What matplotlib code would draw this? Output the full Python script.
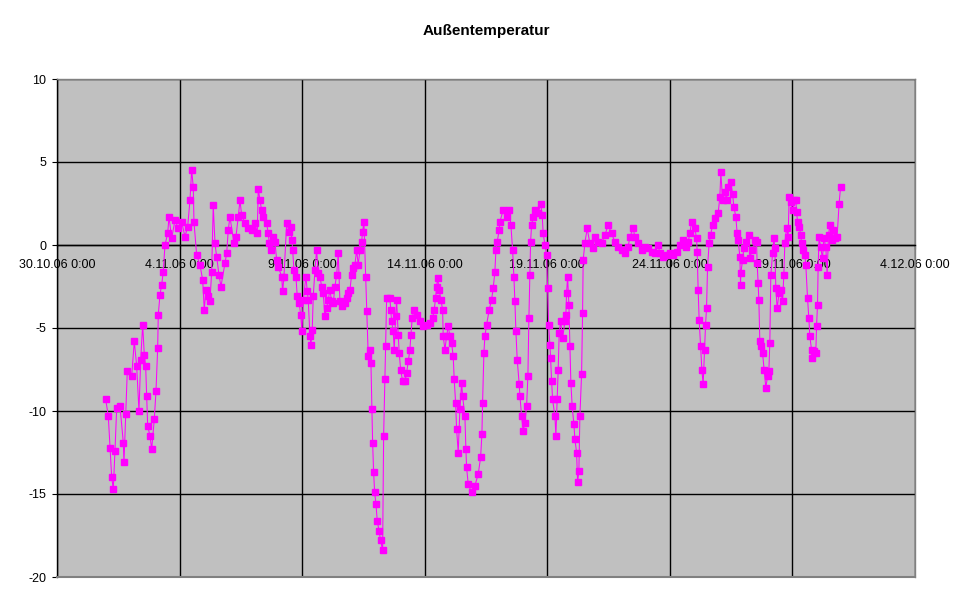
import matplotlib
matplotlib.use("Agg")
import matplotlib.pyplot as plt
import matplotlib.dates as mdates
from matplotlib.ticker import FuncFormatter, FixedLocator
from datetime import datetime, timedelta

plt.rcParams['font.family'] = ['Liberation Sans', 'DejaVu Sans']
plt.rcParams['axes.unicode_minus'] = False

title = "Außentemperatur"
start = datetime(2006, 10, 30)

# time of each reading, in days after 30.10.06 0:00
days = [
    1.986, 2.092, 2.162, 2.231, 2.296, 2.365, 2.435, 2.569, 2.704, 2.732,
    2.802, 2.867, 3.047, 3.153, 3.250, 3.344, 3.414, 3.495, 3.560, 3.617,
    3.658, 3.699, 3.793, 3.862, 3.968, 4.038, 4.107, 4.131, 4.201, 4.270,
    4.335, 4.405, 4.515, 4.568, 4.678, 4.812, 4.947, 5.086, 5.220, 5.330,
    5.424, 5.493, 5.559, 5.587, 5.697, 5.832, 5.942, 6.007, 6.077, 6.170,
    6.240, 6.309, 6.374, 6.444, 6.513, 6.607, 6.688, 6.852, 6.921, 6.986,
    7.055, 7.219, 7.300, 7.394, 7.463, 7.533, 7.667, 7.802, 7.940, 8.075,
    8.169, 8.210, 8.279, 8.348, 8.413, 8.552, 8.617, 8.658, 8.715, 8.821,
    8.891, 8.960, 9.025, 9.164, 9.205, 9.258, 9.368, 9.474, 9.531, 9.584,
    9.613, 9.666, 9.747, 9.800, 9.882, 9.939, 9.992, 10.045, 10.155, 10.208,
    10.249, 10.318, 10.359, 10.412, 10.453, 10.522, 10.591, 10.657, 10.726, 10.795,
    10.860, 10.930, 10.999, 11.064, 11.134, 11.203, 11.268, 11.338, 11.407, 11.472,
    11.542, 11.611, 11.746, 11.815, 11.880, 11.950, 12.019, 12.084, 12.153, 12.223,
    12.288, 12.357, 12.427, 12.467, 12.520, 12.590, 12.631, 12.696, 12.765, 12.806,
    12.847, 12.875, 12.916, 12.957, 13.010, 13.063, 13.132, 13.202, 13.283, 13.324,
    13.377, 13.405, 13.446, 13.581, 13.613, 13.650, 13.715, 13.756, 13.813, 13.854,
    13.919, 13.960, 14.017, 14.098, 14.193, 14.262, 14.327, 14.396, 14.437, 14.490,
    14.560, 14.670, 14.804, 14.939, 15.077, 15.212, 15.322, 15.387, 15.444, 15.485,
    15.526, 15.592, 15.661, 15.730, 15.755, 15.824, 15.893, 15.958, 16.028, 16.097,
    16.162, 16.203, 16.260, 16.301, 16.366, 16.436, 16.505, 16.545, 16.639, 16.680,
    16.708, 16.774, 16.913, 17.047, 17.182, 17.280, 17.333, 17.361, 17.414, 17.455,
    17.524, 17.631, 17.728, 17.794, 17.863, 17.904, 17.957, 18.038, 18.067, 18.202,
    18.340, 18.447, 18.516, 18.585, 18.638, 18.679, 18.720, 18.773, 18.855, 18.884,
    18.952, 19.018, 19.086, 19.156, 19.209, 19.250, 19.290, 19.319, 19.360, 19.425,
    19.494, 19.629, 19.727, 19.792, 19.833, 19.902, 19.972, 20.013, 20.053, 20.106,
    20.135, 20.176, 20.216, 20.310, 20.351, 20.404, 20.445, 20.486, 20.543, 20.625,
    20.718, 20.759, 20.787, 20.828, 20.881, 20.922, 20.962, 21.015, 21.085, 21.126,
    21.195, 21.236, 21.289, 21.330, 21.399, 21.440, 21.464, 21.533, 21.627, 21.737,
    21.872, 21.941, 22.076, 22.215, 22.349, 22.484, 22.622, 22.757, 22.892, 23.030,
    23.165, 23.300, 23.369, 23.504, 23.573, 23.708, 23.846, 23.981, 24.116, 24.254,
    24.389, 24.523, 24.592, 24.727, 24.866, 25.000, 25.135, 25.273, 25.408, 25.542,
    25.652, 25.747, 25.816, 25.885, 26.020, 26.089, 26.114, 26.154, 26.195, 26.252,
    26.305, 26.358, 26.415, 26.456, 26.497, 26.538, 26.603, 26.660, 26.741, 26.835,
    26.970, 27.039, 27.080, 27.149, 27.243, 27.312, 27.378, 27.475, 27.557, 27.610,
    27.692, 27.745, 27.786, 27.855, 27.884, 27.896, 27.966, 28.019, 28.124, 28.222,
    28.263, 28.357, 28.467, 28.536, 28.560, 28.601, 28.630, 28.670, 28.711, 28.781,
    28.846, 28.915, 28.985, 29.038, 29.078, 29.119, 29.189, 29.242, 29.282, 29.323,
    29.376, 29.458, 29.527, 29.597, 29.650, 29.690, 29.760, 29.825, 29.866, 29.923,
    30.004, 30.070, 30.139, 30.168, 30.208, 30.273, 30.343, 30.371, 30.437, 30.506,
    30.546, 30.616, 30.669, 30.710, 30.779, 30.804, 30.885, 30.954, 30.983, 31.024,
    31.048, 31.089, 31.146, 31.227, 31.280, 31.362, 31.415, 31.472, 31.525, 31.594,
    31.660, 31.729, 31.823, 31.904, 31.964,
]

temperature = [
    -9.3, -10.3, -12.2, -14.0, -14.7, -12.4, -9.8, -9.7, -11.9, -13.1,
    -10.2, -7.6, -7.9, -5.8, -7.3, -10.0, -6.9, -4.8, -6.6, -7.3,
    -9.1, -10.9, -11.5, -12.3, -10.5, -8.8, -6.2, -4.2, -3.0, -2.4,
    -1.6, 0.0, 0.7, 1.7, 0.4, 1.5, 1.0, 1.4, 0.5, 1.1,
    2.7, 4.5, 3.5, 1.4, -0.6, -1.2, -2.1, -3.9, -2.7, -3.1,
    -3.4, -1.6, 2.4, 0.1, -0.7, -1.8, -2.5, -1.1, -0.5, 0.9,
    1.7, 0.1, 0.5, 1.7, 2.7, 1.8, 1.3, 1.0, 0.9, 1.3,
    0.7, 3.4, 2.7, 2.1, 1.7, 1.3, 0.7, 0.1, -0.3, 0.5,
    0.2, -0.9, -1.3, -1.9, -2.8, -1.9, 1.3, 0.8, 1.1, 0.3,
    -0.3, -1.5, -1.9, -3.1, -3.5, -4.2, -5.2, -3.3, -1.9, -2.8,
    -3.3, -5.5, -6.0, -5.1, -3.1, -1.5, -0.3, -1.7, -1.9, -2.5,
    -2.9, -4.3, -3.8, -3.3, -2.7, -3.4, -3.5, -2.5, -1.8, -0.5,
    -3.4, -3.7, -3.5, -3.2, -2.9, -2.7, -1.8, -1.4, -1.2, -0.3,
    -1.2, -0.3, 0.2, 0.8, 1.4, -1.9, -4.0, -6.7, -6.3, -7.1,
    -9.9, -11.9, -13.7, -14.9, -15.6, -16.6, -17.2, -17.8, -18.4, -11.5,
    -8.1, -6.1, -3.2, -3.2, -3.9, -4.6, -5.2, -6.3, -4.3, -3.3,
    -5.4, -6.5, -7.5, -8.2, -8.2, -7.7, -7.0, -6.3, -5.4, -4.4,
    -3.9, -4.2, -4.6, -4.9, -4.8, -4.7, -4.4, -3.9, -3.2, -2.5,
    -2.0, -2.7, -3.3, -3.9, -5.5, -6.3, -5.5, -4.9, -5.5, -5.9,
    -6.7, -8.1, -9.5, -11.1, -12.5, -9.9, -8.3, -9.1, -10.3, -12.3,
    -13.4, -14.4, -14.9, -14.5, -13.8, -12.8, -11.4, -9.5, -6.5, -5.5,
    -4.8, -3.9, -3.3, -2.6, -1.6, -0.3, 0.2, 0.9, 1.4, 2.1,
    1.7, 2.1, 1.2, -0.3, -1.9, -3.4, -5.2, -6.9, -8.4, -9.1,
    -10.3, -11.2, -10.7, -9.7, -7.9, -4.4, -1.8, 0.2, 1.2, 1.7,
    2.1, 1.9, 2.5, 1.8, 0.7, 0.0, -0.6, -2.6, -4.8, -6.0,
    -6.8, -8.2, -9.3, -10.3, -11.5, -9.3, -7.5, -5.3, -4.6, -5.6,
    -4.6, -4.2, -2.9, -1.9, -3.6, -6.1, -8.3, -9.7, -10.8, -11.7,
    -12.5, -14.3, -13.6, -10.3, -7.8, -4.1, -0.9, 0.1, 1.0, 0.1,
    -0.2, 0.5, 0.2, 0.1, 0.6, 1.2, 0.7, 0.2, -0.1, -0.3,
    -0.5, -0.1, 0.5, 1.0, 0.5, 0.1, -0.3, -0.1, -0.2, -0.4,
    -0.5, 0.0, -0.5, -0.7, -0.6, -0.5, -0.6, -0.4, 0.0, 0.3,
    -0.1, 0.2, 0.7, 1.4, 1.0, 0.4, -0.4, -2.7, -4.5, -6.1,
    -7.5, -8.4, -6.3, -4.8, -3.8, -1.3, 0.1, 0.6, 1.2, 1.6,
    1.9, 2.9, 4.4, 2.7, 3.2, 2.7, 3.5, 3.8, 3.1, 2.3,
    1.7, 0.7, 0.3, -0.7, -2.4, -1.7, -0.9, -0.2, 0.2, 0.6,
    -0.8, -0.3, 0.3, 0.2, -1.1, -2.3, -3.3, -5.8, -6.1, -6.5,
    -7.5, -8.6, -7.9, -7.6, -5.9, -1.8, -0.5, 0.4, -0.2, -2.6,
    -3.8, -2.9, -2.7, -3.4, -1.8, 0.1, 1.0, 0.5, 2.9, 2.6,
    2.1, 2.7, 2.7, 2.0, 1.4, 1.1, 0.6, 0.1, -0.3, -0.6,
    -1.2, -3.2, -4.4, -5.5, -6.3, -6.8, -6.4, -6.5, -4.9, -3.6,
    -1.3, 0.5, -0.1, -0.8, 0.4, -0.1, -1.8, 0.6, 1.2, 0.3,
    0.9, 0.4, 0.5, 2.5, 3.5,
]

y_ticks = [-20, -15, -10, -5, 0, 5, 10]
x_tick_days = [0, 5, 10, 15, 20, 25, 30, 35]

times = [start + timedelta(days=d) for d in days]

W, H = 971, 604
fig = plt.figure(figsize=(W / 100, H / 100), dpi=100)
fig.patch.set_facecolor('white')
ax = fig.add_axes([57 / W, (H - 577) / H, (915 - 57) / W, (577 - 79) / H])
ax.set_facecolor('#C0C0C0')

ax.plot(times, temperature, color='#FF00FF', lw=0.75, marker='s', ms=4.0,
        mec='#FF00FF', mfc='#FF00FF', zorder=3, clip_on=False)

x_ticks = [mdates.date2num(start + timedelta(days=d)) for d in x_tick_days]
ax.set_xlim(x_ticks[0], x_ticks[-1])
ax.set_ylim(y_ticks[0], y_ticks[-1])
ax.xaxis.set_major_locator(FixedLocator(x_ticks))
ax.yaxis.set_major_locator(FixedLocator(y_ticks))


def fmt_date(x, pos):
    dt = mdates.num2date(x)
    return f"{dt.day}.{dt:%m}.{dt:%y} {dt.hour}:{dt:%M}"


ax.xaxis.set_major_formatter(FuncFormatter(fmt_date))
ax.yaxis.set_major_formatter(FuncFormatter(lambda v, p: f"{v:g}"))

ax.grid(True, color='black', lw=1.0)
ax.set_axisbelow(True)

# value axis (left) black, category axis crossing at 0
ax.spines['left'].set_color('black')
ax.spines['left'].set_linewidth(1.0)
ax.spines['bottom'].set_position(('data', 0))
ax.spines['bottom'].set_color('black')
ax.spines['bottom'].set_linewidth(1.0)
for s in ('top', 'right'):
    ax.spines[s].set_color('#808080')
    ax.spines[s].set_linewidth(1.0)
ax.axhline(y_ticks[0], color='#808080', lw=1.5, zorder=2.6, clip_on=False)

ax.tick_params(axis='x', direction='out', length=3, width=0.8, pad=7,
               labelsize=9, colors='black')
ax.tick_params(axis='y', direction='out', length=3.6, width=0.8, pad=4,
               labelsize=9, colors='black')

fig.text(486 / W, 1 - 31 / H, title, ha='center', va='center',
         fontsize=11, fontweight='bold')

fig.savefig('out.png', dpi=100, facecolor='white')
